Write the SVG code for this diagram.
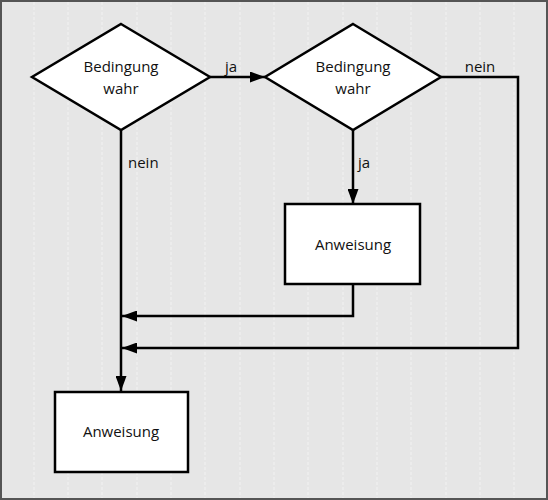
<svg xmlns="http://www.w3.org/2000/svg" width="548" height="500" viewBox="0 0 548 500">
<style>
.bg{fill:#e6e6e6;stroke:#555;stroke-width:2}
.grid{stroke:#f2f2f2;stroke-width:1;stroke-dasharray:3 2}
.shape{fill:#fff;stroke:#000;stroke-width:2.5}
.line{fill:none;stroke:#000;stroke-width:2.5}
text{font-family:"Open Sans","Noto Sans",sans-serif;font-size:15px;fill:#111}
.c{text-anchor:middle}
</style>
<defs>
<marker id="ah" markerWidth="15" markerHeight="11" refX="15" refY="5.5" orient="auto" markerUnits="userSpaceOnUse">
<path d="M0,0 L15,5.5 L0,11 Z" fill="#000"/>
</marker>
</defs>
<rect class="bg" x="1" y="1" width="546" height="498"/>
<g id="grid">
<line class="grid" x1="34" y1="2" x2="34" y2="498"/>
<line class="grid" x1="68" y1="2" x2="68" y2="498"/>
<line class="grid" x1="102" y1="2" x2="102" y2="498"/>
<line class="grid" x1="137" y1="2" x2="137" y2="498"/>
<line class="grid" x1="171" y1="2" x2="171" y2="498"/>
<line class="grid" x1="205" y1="2" x2="205" y2="498"/>
<line class="grid" x1="240" y1="2" x2="240" y2="498"/>
<line class="grid" x1="274" y1="2" x2="274" y2="498"/>
<line class="grid" x1="308" y1="2" x2="308" y2="498"/>
<line class="grid" x1="343" y1="2" x2="343" y2="498"/>
<line class="grid" x1="377" y1="2" x2="377" y2="498"/>
<line class="grid" x1="411" y1="2" x2="411" y2="498"/>
<line class="grid" x1="446" y1="2" x2="446" y2="498"/>
<line class="grid" x1="480" y1="2" x2="480" y2="498"/>
<line class="grid" x1="514" y1="2" x2="514" y2="498"/>
</g>
<g id="connectors">
<line class="line" x1="210" y1="77" x2="265" y2="77" marker-end="url(#ah)"/>
<line class="line" x1="353" y1="130" x2="353" y2="204" marker-end="url(#ah)"/>
<polyline class="line" points="441,77 518,77 518,348 122,348" marker-end="url(#ah)"/>
<polyline class="line" points="353,284 353,316 122,316" marker-end="url(#ah)"/>
<line class="line" x1="121" y1="130" x2="121" y2="391" marker-end="url(#ah)"/>
<text x="231" y="72" class="c">ja</text>
<text x="480" y="72" class="c">nein</text>
<text x="358" y="168">ja</text>
<text x="128" y="168">nein</text>
</g>
<g id="cond1">
<polygon class="shape" points="121,24 210,77 121,130 32,77"/>
<text x="121" y="72" class="c">Bedingung</text>
<text x="121" y="94" class="c">wahr</text>
</g>
<g id="cond2">
<polygon class="shape" points="353,24 441,77 353,130 265,77"/>
<text x="353" y="72" class="c">Bedingung</text>
<text x="353" y="94" class="c">wahr</text>
</g>
<g id="stmt2">
<rect class="shape" x="285" y="204" width="135" height="80"/>
<text x="353" y="250" class="c">Anweisung</text>
</g>
<g id="stmt1">
<rect class="shape" x="55" y="392" width="133" height="80"/>
<text x="121" y="437" class="c">Anweisung</text>
</g>
</svg>
